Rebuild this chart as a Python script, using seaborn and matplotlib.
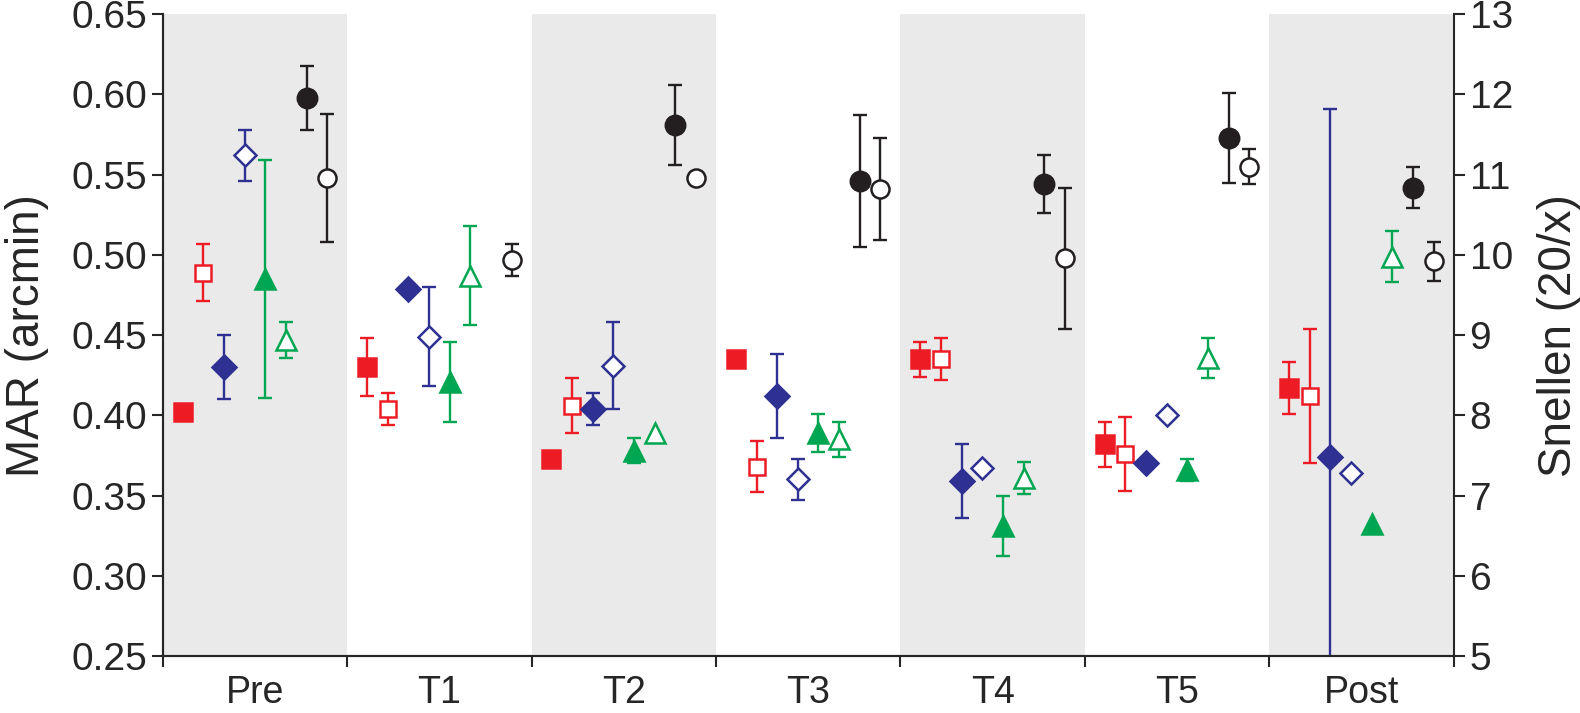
import numpy as np
import pandas as pd
import matplotlib
matplotlib.use('Agg')
import matplotlib.pyplot as plt
import seaborn as sns

nan = np.nan

#%% data (MAR in arcmin, nan = not shown)
sessions = ['Pre', 'T1', 'T2', 'T3', 'T4', 'T5', 'Post']

red_fill = [0.402, 0.430, 0.373, 0.435, 0.435, 0.382, 0.417]
red_fill_err = [nan, 0.018, nan, nan, 0.011, 0.014, 0.016]
red_open = [0.489, 0.404, 0.406, 0.368, 0.435, 0.376, 0.412]
red_open_err = [0.018, 0.010, 0.017, 0.016, 0.013, 0.023, 0.042]

blue_fill = [0.430, 0.479, 0.404, 0.412, 0.359, 0.370, 0.374]
blue_fill_err = [0.020, nan, 0.010, 0.026, 0.023, nan, 0.217]
blue_open = [0.562, 0.449, 0.431, 0.360, 0.367, 0.400, 0.364]
blue_open_err = [0.016, 0.031, 0.027, 0.0125, nan, nan, nan]

green_fill = [0.485, 0.421, 0.378, 0.389, 0.331, 0.366, 0.332]
green_fill_err = [0.074, 0.025, 0.008, 0.012, 0.019, 0.007, nan]
green_open = [0.447, 0.487, 0.389, 0.385, 0.361, 0.436, 0.499]
green_open_err = [0.011, 0.031, nan, 0.011, 0.010, 0.0125, 0.016]

black_fill = [0.598, nan, 0.581, 0.546, 0.544, 0.573, 0.542]
black_fill_err = [0.020, nan, 0.025, 0.041, 0.018, 0.028, 0.013]
black_open = [0.548, 0.497, 0.548, 0.541, 0.498, 0.555, 0.496]
black_open_err = [0.040, 0.010, nan, 0.032, 0.044, 0.011, 0.012]

#%% style
sns.set_style('ticks')
plt.rcParams['font.family'] = ['Liberation Sans', 'DejaVu Sans']
plt.rcParams['axes.linewidth'] = 1.5

RED = '#ED1C24'
BLUE = '#2E3192'
GREEN = '#00A651'
BLACK = '#231F20'
SHADE = '#EAEAEA'

series = [
    (red_fill, red_fill_err, RED, 's', True, 13),
    (red_open, red_open_err, RED, 's', False, 12),
    (blue_fill, blue_fill_err, BLUE, 'D', True, 12),
    (blue_open, blue_open_err, BLUE, 'D', False, 11),
    (green_fill, green_fill_err, GREEN, '^', True, 15),
    (green_open, green_open_err, GREEN, '^', False, 14),
    (black_fill, black_fill_err, BLACK, 'o', True, 14),
    (black_open, black_open_err, BLACK, 'o', False, 13),
]

fig, ax = plt.subplots(figsize=(15.8, 7.13), dpi=100)
fig.subplots_adjust(left=0.103, right=0.920, bottom=0.080, top=0.980)

x = np.arange(len(sessions))
for i in range(len(sessions)):
    if i % 2 == 0:
        ax.axvspan(i - 0.5, i + 0.5, color=SHADE, lw=0, zorder=0)

step = 0.112
for k, (vals, errs, col, mk, filled, ms) in enumerate(series):
    xs = x + (k - 3.5) * step
    ax.errorbar(xs, vals, yerr=errs, fmt='none', ecolor=col, elinewidth=1.7,
                capsize=5, capthick=1.7, zorder=2)
    ax.plot(xs, vals, linestyle='none', marker=mk, markersize=ms,
            markeredgecolor=col, markeredgewidth=1.8,
            markerfacecolor=col if filled else 'white', zorder=3)

ax.set_xlim(-0.5, len(sessions) - 0.5)
ax.set_ylim(0.25, 0.65)
ax.set_yticks(np.arange(0.25, 0.651, 0.05))
ax.set_yticklabels(['%.2f' % v for v in np.arange(0.25, 0.651, 0.05)])
ax.set_ylabel('MAR (arcmin)', fontsize=33, labelpad=16)

# ticks at group borders, labels at centres
ax.set_xticks(np.arange(-0.5, len(sessions), 1.0))
ax.set_xticklabels([])
ax.set_xticks(x, minor=True)
ax.set_xticklabels(sessions, minor=True, fontsize=27)
ax.tick_params(axis='x', which='minor', length=0, pad=14)
ax.tick_params(axis='x', which='major', length=8, width=1.5, direction='out')
ax.tick_params(axis='y', labelsize=28, length=8, width=1.5, direction='out')

ax2 = ax.twinx()
ax2.set_ylim(5, 13)
ax2.set_yticks(range(5, 14))
ax2.tick_params(axis='y', labelsize=28, length=8, width=1.5, direction='out')
ax2.set_ylabel('Snellen (20/x)', fontsize=33, labelpad=17)

sns.despine(ax=ax, top=True, right=False)
sns.despine(ax=ax2, top=True, right=False)
ax.spines['right'].set_visible(False)

fig.savefig('out.png', dpi=100)
